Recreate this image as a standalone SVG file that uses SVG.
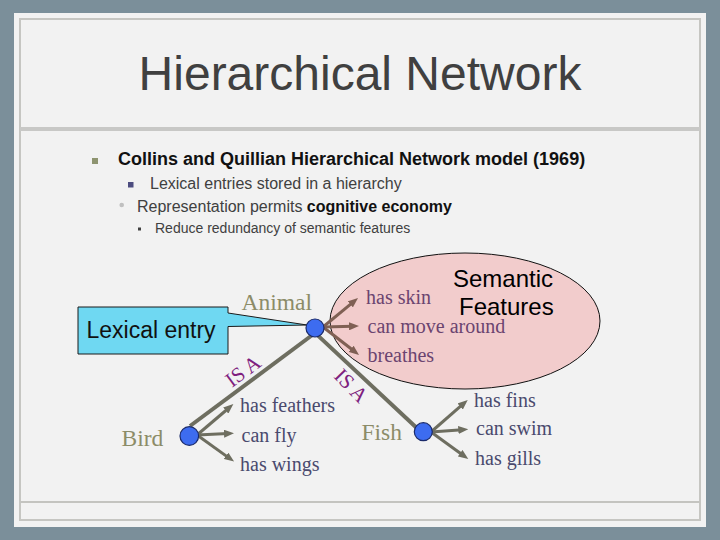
<svg xmlns="http://www.w3.org/2000/svg" width="720" height="540" viewBox="0 0 720 540">
  <style>
    .sans { font-family: "Liberation Sans", Arial, sans-serif; }
    .serif { font-family: "Liberation Serif", "Times New Roman", serif; }
    .title { font-size: 48px; fill: #404040; }
    .b1 { font-size: 18px; font-weight: bold; fill: #111111; }
    .b2 { font-size: 16px; fill: #404040; }
    .b4 { font-size: 14px; fill: #404040; }
    .concept { font-size: 23.5px; fill: #8c8c68; }
    .feat-a { font-size: 20px; fill: #6b4470; }
    .feat-b { font-size: 20px; fill: #4a4a6e; }
    .isa { font-size: 21px; fill: #7f1f7f; }
    .node { fill: #3d6cf0; stroke: #1a2a6a; stroke-width: 1.2; }
    .arrow-brown { stroke: #7f6054; stroke-width: 3; fill: none; marker-end: url(#ah-brown); }
    .arrow-grey { stroke: #6e6e60; stroke-width: 3; fill: none; marker-end: url(#ah-grey); }
    .isa-line { stroke: #6e6e60; stroke-width: 4; fill: none; }
  </style>
  <defs>
    <marker id="ah-brown" markerUnits="userSpaceOnUse" viewBox="0 0 10 8" markerWidth="10" markerHeight="8" refX="4" refY="4" orient="auto">
      <path d="M0,0 L10,4 L0,8 Z" fill="#7f6054"/>
    </marker>
    <marker id="ah-grey" markerUnits="userSpaceOnUse" viewBox="0 0 10 8" markerWidth="10" markerHeight="8" refX="4" refY="4" orient="auto">
      <path d="M0,0 L10,4 L0,8 Z" fill="#6e6e60"/>
    </marker>
  </defs>

  <!-- slide background -->
  <rect x="0" y="0" width="720" height="540" fill="#7b8f9a"/>
  <rect x="14" y="13" width="692" height="514" fill="#f2f2f2"/>
  <rect x="20" y="19" width="680" height="501" fill="none" stroke="#c6c6c2" stroke-width="2"/>
  <rect x="20" y="127" width="680" height="4" fill="#c8c8c6"/>
  <line x1="20" y1="502" x2="700" y2="502" stroke="#c4c4c0" stroke-width="2"/>

  <!-- title and bullets -->
  <text class="sans title" x="360" y="90" text-anchor="middle">Hierarchical Network</text>
  <rect x="92" y="158" width="6" height="6" fill="#8e9470"/>
  <text class="sans b1" x="118" y="165">Collins and Quillian Hierarchical Network model (1969)</text>
  <rect x="128" y="182" width="5.5" height="5.5" fill="#4d4d80"/>
  <text class="sans b2" x="150" y="189">Lexical entries stored in a hierarchy</text>
  <circle cx="121.7" cy="205" r="2.3" fill="#c0c0c0"/>
  <text class="sans b2" x="137" y="211.5">Representation permits <tspan font-weight="bold" fill="#111111">cognitive economy</tspan></text>
  <rect x="138" y="227.5" width="3" height="3" fill="#404040"/>
  <text class="sans b4" x="155" y="233">Reduce redundancy of semantic features</text>

  <!-- semantic features ellipse -->
  <g id="semantic-features">
    <ellipse cx="465" cy="321" rx="135" ry="68" fill="#f2cccc" stroke="#111111" stroke-width="1"/>
    <text class="sans" x="453" y="287" font-size="24" fill="#000000">Semantic</text>
    <text class="sans" x="459" y="315" font-size="24" fill="#000000">Features</text>
  </g>

  <!-- lexical entry callout -->
  <g id="lexical-entry">
    <path d="M78,307 H228 V313 L307,325 L228,326.5 V354 H78 Z" fill="#6fd8f2" stroke="#1a1a1a" stroke-width="1"/>
    <text class="sans" x="86.5" y="338" font-size="23" fill="#111111">Lexical entry</text>
  </g>

  <!-- connectors -->
  <g id="connectors">
    <line class="isa-line" x1="315" y1="333" x2="190" y2="426"/>
    <line class="isa-line" x1="318" y1="335.6" x2="420" y2="431"/>
    <line class="arrow-brown" x1="323" y1="327" x2="353.4" y2="301.8"/>
    <line class="arrow-brown" x1="323" y1="327" x2="353" y2="326.2"/>
    <line class="arrow-brown" x1="323" y1="327" x2="354.3" y2="351.3"/>
    <line class="arrow-grey" x1="197" y1="435" x2="228.8" y2="408"/>
    <line class="arrow-grey" x1="197" y1="435" x2="228" y2="433.6"/>
    <line class="arrow-grey" x1="197" y1="435" x2="229.2" y2="458.1"/>
    <line class="arrow-grey" x1="431" y1="432" x2="463.2" y2="403.9"/>
    <line class="arrow-grey" x1="431" y1="432" x2="462.3" y2="429.7"/>
    <line class="arrow-grey" x1="431" y1="432" x2="463.4" y2="455.5"/>
    <text class="serif isa" transform="translate(232,388) rotate(-36.6)">IS A</text>
    <text class="serif isa" transform="translate(333,377) rotate(46)">IS A</text>
  </g>

  <!-- nodes -->
  <g id="animal">
    <circle class="node" cx="315" cy="328" r="9"/>
    <text class="serif concept" x="241.5" y="310">Animal</text>
    <text class="serif feat-a" x="366" y="304">has skin</text>
    <text class="serif feat-a" x="367.5" y="332.5">can move around</text>
    <text class="serif feat-a" x="367.5" y="361.5">breathes</text>
  </g>
  <g id="bird">
    <circle class="node" cx="189.3" cy="436" r="9.3"/>
    <text class="serif concept" x="121.5" y="445.5">Bird</text>
    <text class="serif feat-b" x="240" y="412.3">has feathers</text>
    <text class="serif feat-b" x="241.5" y="441.5">can fly</text>
    <text class="serif feat-b" x="240" y="470.5">has wings</text>
  </g>
  <g id="fish">
    <circle class="node" cx="423.3" cy="431.7" r="9"/>
    <text class="serif concept" x="361.5" y="440">Fish</text>
    <text class="serif feat-b" x="474" y="406.5">has fins</text>
    <text class="serif feat-b" x="476" y="435">can swim</text>
    <text class="serif feat-b" x="475" y="465">has gills</text>
  </g>
</svg>
